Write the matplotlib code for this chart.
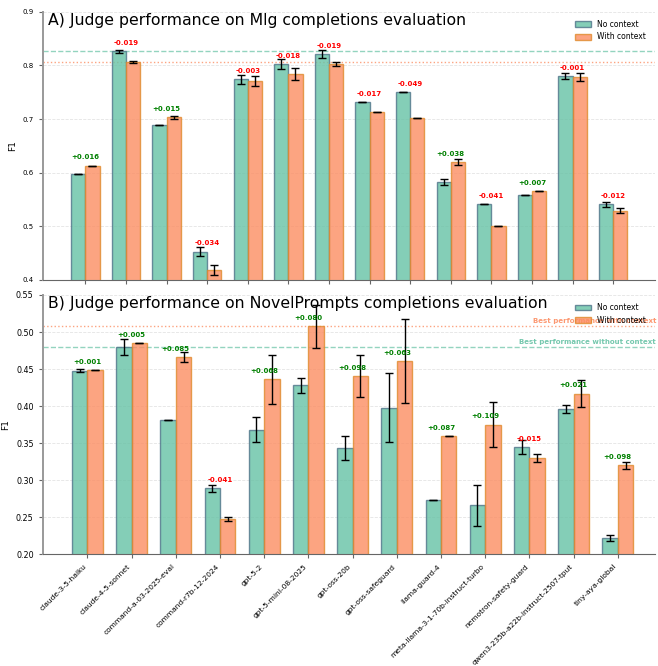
import numpy as np
import matplotlib
matplotlib.use("Agg")
import matplotlib.pyplot as plt

# A) Mlg completions (14 judges, tick labels not shown on this panel)
mlg_no = [0.597, 0.826, 0.688, 0.453, 0.774, 0.802, 0.821, 0.731, 0.750, 0.582, 0.541, 0.558, 0.780, 0.541]
mlg_no_err = [0.0, 0.003, 0.0, 0.008, 0.008, 0.009, 0.0075, 0.0, 0.0, 0.0055, 0.0, 0.0, 0.005, 0.0043]
mlg_with = [0.613, 0.807, 0.703, 0.419, 0.771, 0.784, 0.802, 0.714, 0.701, 0.620, 0.500, 0.565, 0.779, 0.529]
mlg_with_err = [0.0, 0.002, 0.003, 0.009, 0.0087, 0.011, 0.004, 0.0, 0.0, 0.005, 0.0, 0.0, 0.0075, 0.005]

# B) NovelPrompts completions
models = ["claude-3-5-haiku", "claude-4-5-sonnet", "command-a-03-2025-eval",
          "command-r7b-12-2024", "gpt-5-2", "gpt-5-mini-08-2025", "gpt-oss-20b",
          "gpt-oss-safeguard", "llama-guard-4", "meta-llama-3-1-70b-instruct-turbo",
          "nemotron-safety-guard", "qwen3-235b-a22b-instruct-2507-tput", "tiny-aya-global"]
np_no = [0.448, 0.480, 0.381, 0.289, 0.368, 0.428, 0.343, 0.398, 0.273, 0.266, 0.345, 0.396, 0.222]
np_no_err = [0.002, 0.0105, 0.0, 0.0045, 0.017, 0.010, 0.016, 0.047, 0.0, 0.028, 0.0095, 0.0056, 0.0047]
np_with = [0.449, 0.485, 0.466, 0.248, 0.436, 0.508, 0.441, 0.461, 0.360, 0.375, 0.330, 0.417, 0.320]
np_with_err = [0.0, 0.0, 0.007, 0.003, 0.0325, 0.029, 0.0285, 0.057, 0.0, 0.0305, 0.005, 0.018, 0.0045]

TEAL = "#66c2a5"
ORANGE = "#fc8d62"
w = 0.35

fig = plt.figure(figsize=(6.58, 6.66), dpi=100)
ax1 = fig.add_axes([0.0649, 0.5796, 0.9305, 0.4028])
ax2 = fig.add_axes([0.0649, 0.1677, 0.9305, 0.3894])


def panel(ax, no, no_err, wi, wi_err, ylim, title, tick_fs, best_text):
    x = np.arange(len(no))
    ekw = dict(ecolor="black", elinewidth=1, capthick=1)
    ax.bar(x - w / 2, no, w, yerr=no_err, capsize=3, color=TEAL, alpha=0.8,
           edgecolor="#4e7389", linewidth=1, error_kw=ekw, label="No context", zorder=2)
    ax.bar(x + w / 2, wi, w, yerr=wi_err, capsize=3, color=ORANGE, alpha=0.8,
           edgecolor="#e08a2c", linewidth=1, error_kw=ekw, label="With context", zorder=2)

    rng = ylim[1] - ylim[0]
    for i in range(len(no)):
        d = wi[i] - no[i]
        col = "green" if d >= 0 else "red"
        ax.text(x[i], max(no[i], wi[i]) + 0.02 * rng, f"{d:+.3f}", ha="center", va="bottom",
                fontsize=5, fontweight="bold", color=col, zorder=4)

    best_no = max(no)
    best_wi = max(wi)
    ax.axhline(best_no, color=TEAL, ls="--", lw=1, alpha=0.7, zorder=1)
    ax.axhline(best_wi, color=ORANGE, ls=":", lw=1, alpha=0.8, zorder=1)
    if best_text:
        ax.text(1.002, best_no + 0.003, "Best performance without context",
                transform=ax.get_yaxis_transform(), ha="right", va="bottom",
                fontsize=5, fontweight="bold", color=TEAL, alpha=0.9)
        ax.text(1.002, best_wi + 0.003, "Best performance with context",
                transform=ax.get_yaxis_transform(), ha="right", va="bottom",
                fontsize=5, fontweight="bold", color=ORANGE, alpha=0.9)

    ax.set_ylim(*ylim)
    ax.set_xticks(x)
    ax.set_ylabel("F1", fontsize=6.5)
    ax.tick_params(axis="y", labelsize=tick_fs, length=3, color="#666666")
    ax.tick_params(axis="x", length=3, color="#666666")
    ax.grid(axis="y", ls="--", color="#dddddd", lw=0.6, alpha=0.8, zorder=0)
    ax.set_axisbelow(True)
    for s in ["top", "right"]:
        ax.spines[s].set_visible(False)
    ax.spines["left"].set_color("#999999")
    ax.spines["left"].set_linewidth(1.4)
    ax.spines["bottom"].set_color("#666666")
    ax.text(0.009, 0.995, title, transform=ax.transAxes, ha="left", va="top", fontsize=11.3)
    ax.legend(loc="upper right", frameon=False, fontsize=5.5, handlelength=2.1,
              handleheight=0.8, labelspacing=0.45, bbox_to_anchor=(0.997, 0.995))


panel(ax1, mlg_no, mlg_no_err, mlg_with, mlg_with_err, (0.4, 0.9),
      "A) Judge performance on Mlg completions evaluation", 5, False)
ax1.set_xlim(-1.05, 14.03)
ax1.tick_params(axis="x", labelbottom=False)
ax1.set_yticks([0.4, 0.5, 0.6, 0.7, 0.8, 0.9])

panel(ax2, np_no, np_no_err, np_with, np_with_err, (0.2, 0.55),
      "B) Judge performance on NovelPrompts completions evaluation", 5.8, True)
ax2.set_xlim(-1.01, 12.84)
ax2.set_yticks(np.arange(0.2, 0.551, 0.05))
ax2.set_xticklabels(models, rotation=45, ha="right", fontsize=5.4)

fig.savefig("out.png", dpi=100)
